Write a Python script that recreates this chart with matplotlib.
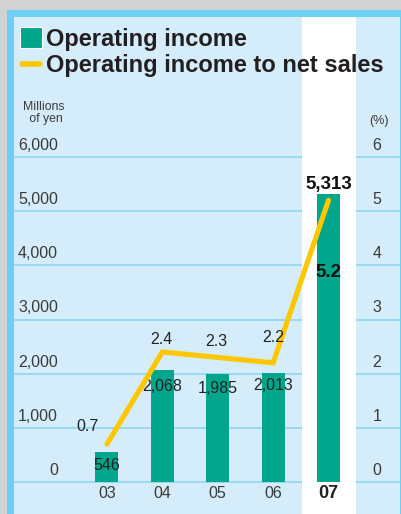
import matplotlib
matplotlib.use("Agg")
import matplotlib.pyplot as plt
from matplotlib.patches import Rectangle
from matplotlib.lines import Line2D

years = ['03', '04', '05', '06', '07']
income = [546, 2068, 1985, 2013, 5313]
ratio = [0.7, 2.4, 2.3, 2.2, 5.2]
left_ticks = [0, 1000, 2000, 3000, 4000, 5000, 6000]
right_ticks = [0, 1, 2, 3, 4, 5, 6]

W, H = 402, 514
GREEN = '#00a68b'
YELLOW = '#ffc700'
PANEL = '#d5edfa'
BORDER = '#6ccff5'
GRID = '#86d3f2'
TXT = '#3a3a3a'

plt.rcParams['font.family'] = ['Liberation Sans', 'DejaVu Sans']


def fx(x):
    return x / W


def fy(y):
    return 1 - y / H


fig = plt.figure(figsize=(W / 100, H / 100), dpi=100)
fig.patch.set_facecolor('#d2d2d2')
fig.patches.append(Rectangle((fx(7), 0), 1 - fx(7), fy(10), transform=fig.transFigure,
                             facecolor=BORDER, edgecolor='none', zorder=-5))

ax = fig.add_axes([fx(14), 0, fx(400) - fx(14), fy(17)])
ax.set_zorder(1)
ax.set_facecolor(PANEL)
for s in ax.spines.values():
    s.set_visible(False)
ax.set_xticks([])
ax.set_yticks([])

# pixel scale: 325 px for 6000, zero at y=482
ppu = 325 / 6000
ymin = -(514 - 482) / ppu
ymax = ymin + (514 - 17) / ppu
ax.set_ylim(ymin, ymax)
xu = 55.4
ax.set_xlim(-(107 - 14) / xu, 4 + (400 - 328.5) / xu)

ax2 = ax.twinx()
ax2.set_zorder(2)
ax2.patch.set_visible(False)
ax2.set_ylim(ymin / 1000, ymax / 1000)
for s in ax2.spines.values():
    s.set_visible(False)
ax2.set_yticks([])

x = list(range(len(years)))

for t in left_ticks:
    ax.axhline(t, color=GRID, lw=1.1, zorder=1)
ax.axvspan(3.53, 4.49, color='white', zorder=2, lw=0)

ax.bar(x, income, width=0.415, color=GREEN, zorder=3)
ax2.plot(x, ratio, color=YELLOW, lw=3.7, solid_capstyle='round', solid_joinstyle='miter', zorder=4)

# tick labels
for t in left_ticks:
    ax.annotate(f'{t:,}', (-0.886, t), xytext=(0, 4), textcoords='offset pixels',
                ha='right', va='bottom', fontsize=11.5, color=TXT)
for t in right_ticks:
    ax2.annotate(f'{t}', (4 + (377 - 328.5) / xu, t), xytext=(0, 4), textcoords='offset pixels',
                 ha='center', va='bottom', fontsize=11.5, color=TXT)
for i, y in enumerate(years):
    bold = i == len(years) - 1
    ax.annotate(y, (i, 0), xytext=(0, -12), textcoords='offset pixels', ha='center', va='center',
                fontsize=13 if bold else 11.5, fontweight='bold' if bold else 'normal',
                color='#222222' if bold else TXT)

# bar value labels
bar_off = [-13, -17, -14, -13, 10]
for i, v in enumerate(income):
    bold = i == len(income) - 1
    ax.annotate(f'{v:,}', (i, v), xytext=(0, bar_off[i]), textcoords='offset pixels',
                ha='center', va='center', fontsize=13.5 if bold else 11.5,
                fontweight='bold' if bold else 'normal', color='#111111' if bold else '#222222',
                zorder=6)

# ratio labels
pct_off = [(-19, 18), (-1, 13), (-1, 16), (0, 25), (0, -72)]
for i, v in enumerate(ratio):
    bold = i == len(ratio) - 1
    ax2.annotate(f'{v}', (i, v), xytext=pct_off[i], textcoords='offset pixels',
                 ha='center', va='center', fontsize=13.5 if bold else 11.5,
                 fontweight='bold' if bold else 'normal', color='#111111' if bold else '#222222',
                 zorder=6)

# units
fig.text(fx(44), fy(113), 'Millions\n of yen', ha='center', va='center', ma='center',
         fontsize=8.8, linespacing=1.05, color=TXT, zorder=10)
fig.text(fx(389), fy(121), '(%)', ha='right', va='center', fontsize=9, color=TXT, zorder=10)

# legend
fig.patches.append(Rectangle((fx(20), fy(48)), fx(22), 21 / H, transform=fig.transFigure,
                             facecolor=GREEN, edgecolor='white', lw=0.8, zorder=10))
fig.lines.append(Line2D([fx(22), fx(40)], [fy(64), fy(64)], transform=fig.transFigure,
                        color=YELLOW, lw=4, solid_capstyle='round', zorder=10))
fig.text(fx(46), fy(46), 'Operating income', ha='left', va='baseline', fontsize=17,
         fontweight='bold', color='#231f20', zorder=10)
fig.text(fx(46), fy(72), 'Operating income to net sales', ha='left', va='baseline', fontsize=17,
         fontweight='bold', color='#231f20', zorder=10)

fig.savefig('out.png', dpi=100, facecolor=fig.get_facecolor())
